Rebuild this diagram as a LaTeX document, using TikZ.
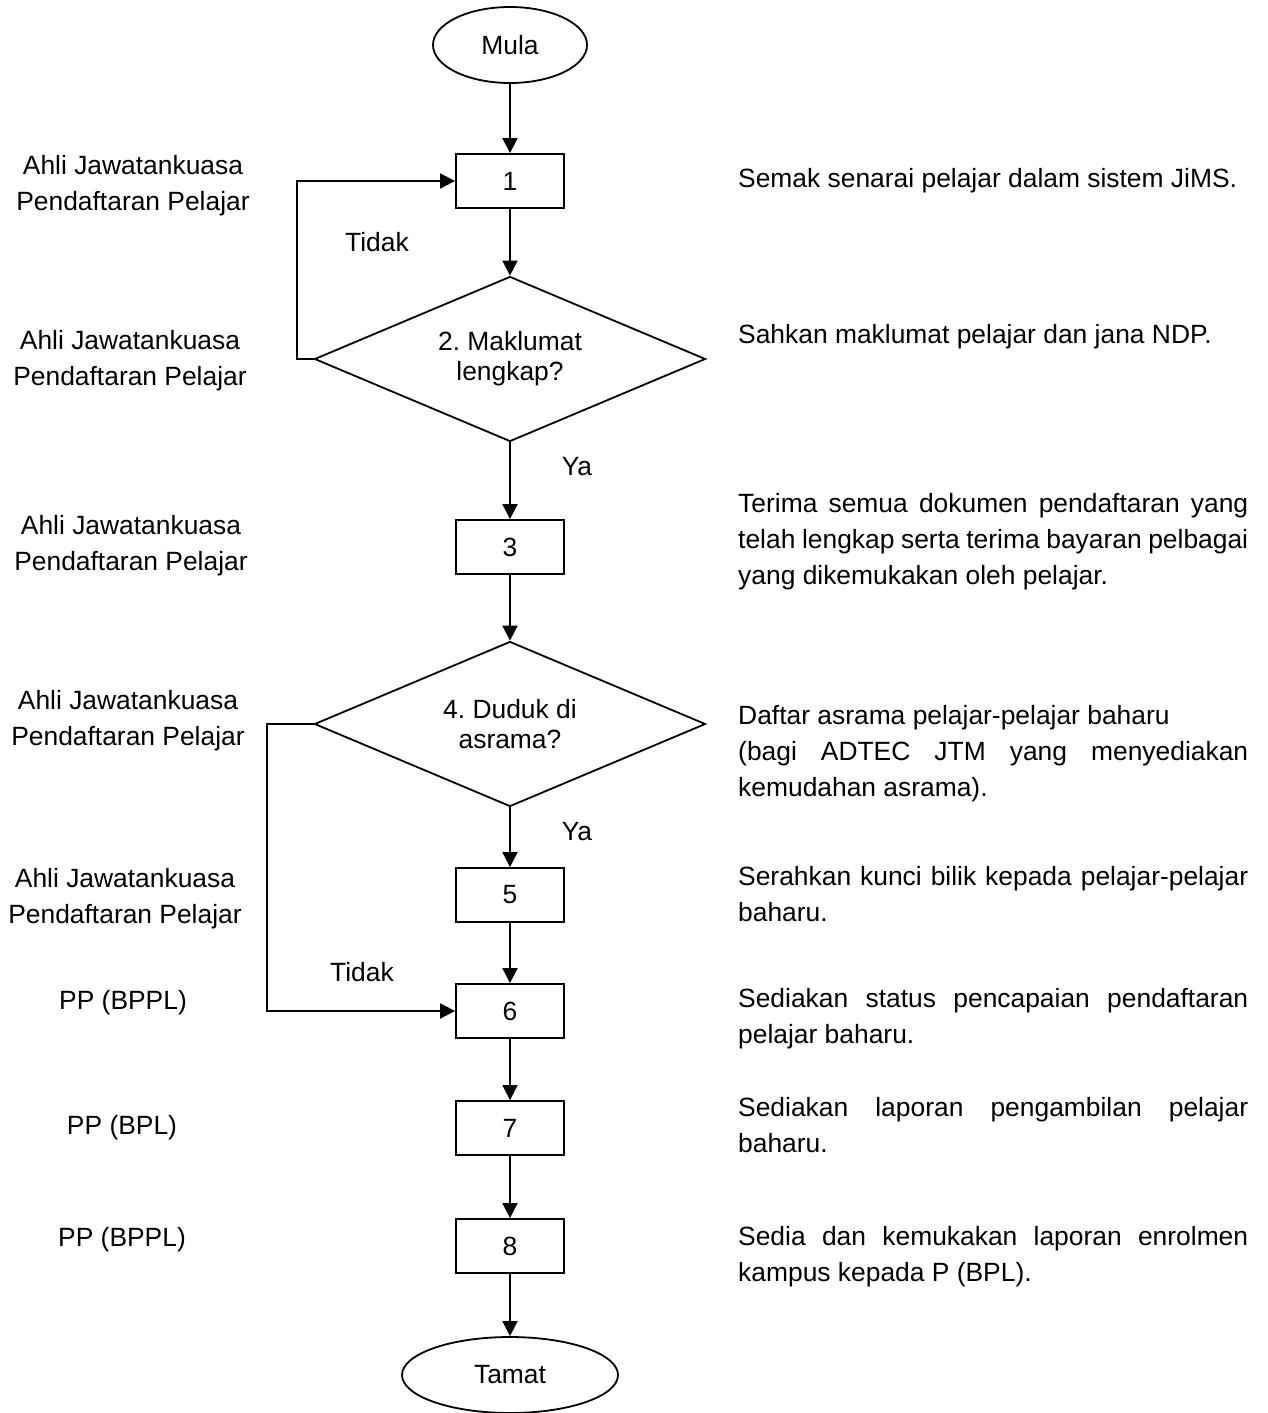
\documentclass[tikz,border=0pt]{standalone}
\usepackage{fontspec}
\setmainfont{Liberation Sans}
\usetikzlibrary{shapes.geometric,arrows.meta}
\frenchspacing
\newlength\rtw
\setlength\rtw{510pt}
\newcommand\jline[1]{\makebox[\rtw][s]{\spaceskip=0pt\xspaceskip=0pt #1}}
\tikzset{
  flow/.style={line width=1.8pt},
  arr/.style={flow,-{Triangle[length=15pt,width=15pt]}},
  procbox/.style={draw,flow,minimum width=108pt,minimum height=54pt,inner sep=0pt},
  decbox/.style={draw,flow,diamond,aspect=2.36,minimum width=391pt,minimum height=165pt,inner sep=0pt,align=center,font=\fontsize{26.4}{30}\selectfont},
  termbox/.style={draw,flow,ellipse,inner sep=0pt},
  who/.style={align=center},
  what/.style={anchor=west,text width=\rtw,align=left,inner sep=0pt},
  every node/.append style={execute at begin node={\frenchspacing\spaceskip=0pt\xspaceskip=0pt}}
}
\begin{document}
\begin{tikzpicture}[x=1pt,y=-1pt,font=\fontsize{26.4}{36}\selectfont]
\useasboundingbox (0,0) rectangle (1267,1413);

\node[termbox,minimum width=154pt,minimum height=76pt] (mula) at (510,45) {Mula};
\node[procbox] (s1) at (510,181) {1};
\node[decbox] (s2) at (510,359) {2. Maklumat\\lengkap?};
\node[procbox] (s3) at (510,547) {3};
\node[decbox] (s4) at (510,724) {4. Duduk di\\asrama?};
\node[procbox] (s5) at (510,895) {5};
\node[procbox] (s6) at (510,1011) {6};
\node[procbox] (s7) at (510,1128) {7};
\node[procbox] (s8) at (510,1246) {8};
\node[termbox,minimum width=216pt,minimum height=76pt] (tamat) at (510,1375) {Tamat};

\draw[arr] (mula) -- (s1);
\draw[arr] (s1) -- (s2);
\draw[arr] (s2) -- (s3);
\draw[arr] (s3) -- (s4);
\draw[arr] (s4) -- (s5);
\draw[arr] (s5) -- (s6);
\draw[arr] (s6) -- (s7);
\draw[arr] (s7) -- (s8);
\draw[arr] (s8) -- (tamat);

\coordinate (back1) at (297,359);
\coordinate (back2) at (267,724);
\draw[arr] (s2.west) -- (back1) |- (s1.west);
\draw[arr] (s4.west) -- (back2) |- (s6.west);

\node (no1) at (377,242) {Tidak};
\node (yes1) at (577,467) {Ya};
\node (yes2) at (577,832) {Ya};
\node (no2) at (362,972) {Tidak};

% who does it
\node[who] (w1) at (133,185) {\strut Ahli Jawatankuasa\\Pendaftaran Pelajar\strut};
\node[who] (w2) at (130,360) {\strut Ahli Jawatankuasa\\Pendaftaran Pelajar\strut};
\node[who] (w3) at (131,545) {\strut Ahli Jawatankuasa\\Pendaftaran Pelajar\strut};
\node[who] (w4) at (128,720) {\strut Ahli Jawatankuasa\\Pendaftaran Pelajar\strut};
\node[who] (w5) at (125,898) {\strut Ahli Jawatankuasa\\Pendaftaran Pelajar\strut};
\node[who] (w6) at (123,1002) {\strut PP (BPPL)\strut};
\node[who] (w7) at (122,1127) {\strut PP (BPL)\strut};
\node[who] (w8) at (122,1239) {\strut PP (BPPL)\strut};

% what is done
\node[what] (t1) at (738,180) {\strut Semak senarai pelajar dalam sistem JiMS.\strut};
\node[what] (t2) at (738,336) {\strut Sahkan maklumat pelajar dan jana NDP.\strut};
\node[what] (t3) at (738,541) {\strut\jline{Terima semua dokumen pendaftaran yang}\\
  \jline{telah lengkap serta terima bayaran pelbagai}\\
  yang dikemukakan oleh pelajar.\strut};
\node[what] (t4) at (738,753) {\strut Daftar asrama pelajar-pelajar baharu\\
  \jline{(bagi ADTEC JTM yang menyediakan}\\
  kemudahan asrama).\strut};
\node[what] (t5) at (738,896) {\strut\jline{Serahkan kunci bilik kepada pelajar-pelajar}\\
  baharu.\strut};
\node[what] (t6) at (738,1018) {\strut\jline{Sediakan status pencapaian pendaftaran}\\
  pelajar baharu.\strut};
\node[what] (t7) at (738,1127) {\strut\jline{Sediakan laporan pengambilan pelajar}\\
  baharu.\strut};
\node[what] (t8) at (738,1256) {\strut\jline{Sedia dan kemukakan laporan enrolmen}\\
  kampus kepada P (BPL).\strut};
\end{tikzpicture}
\end{document}
